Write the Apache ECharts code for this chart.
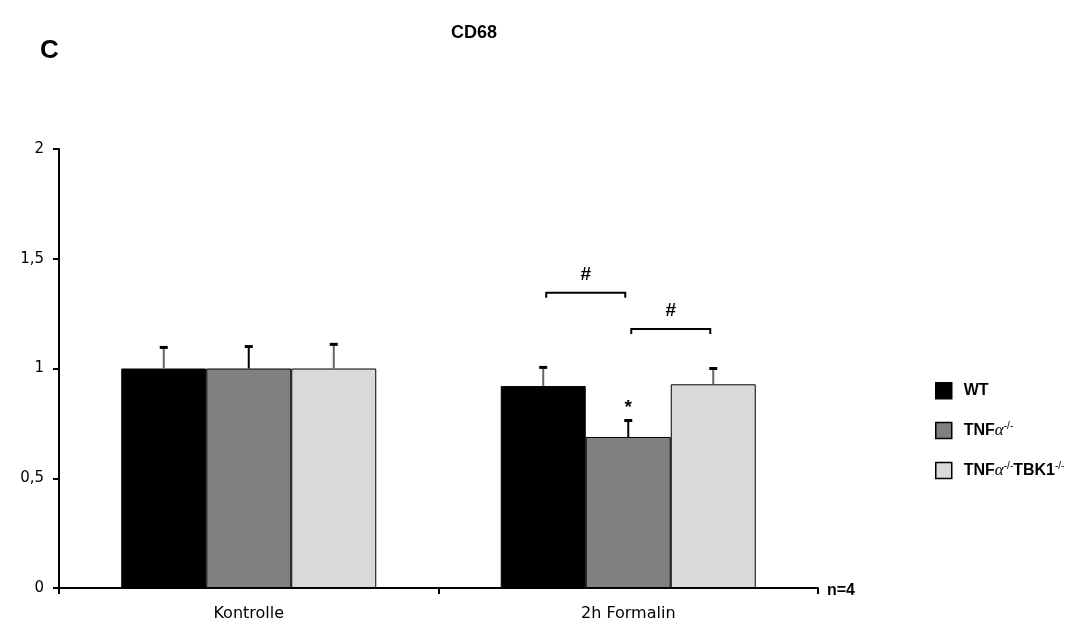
<!DOCTYPE html>
<html><head><meta charset="utf-8">
<script src="https://cdn.jsdelivr.net/npm/echarts@6/dist/echarts.min.js"></script>
<style>html,body{margin:0;padding:0;background:#fff}#c{width:1089px;height:626px}</style>
</head><body><div id="c"></div>
<script>
const categories = ['Kontrolle', '2h Formalin'];
const seriesNames = ['WT', 'TNFα-/-', 'TNFα-/-TBK1-/-'];
const wtValues = [1.0, 0.92];
const tnfValues = [1.0, 0.688];
const tbkValues = [1.0, 0.928];
const wtErr = [0.096, 0.085];
const tnfErr = [0.1, 0.075];
const tbkErr = [0.11, 0.072];
const yTicks = [0, 0.5, 1, 1.5, 2];
// significance brackets: [category, fromBar, toBar, yLevel, label]
const brackets = [[1, 0, 1, 1.345, '#'], [1, 1, 2, 1.18, '#']];
const stars = [[1, 1, 0.82, '*']];

const colors = ['#000000', '#808080', '#d9d9d9'];
const allValues = [wtValues, tnfValues, tbkValues];
const allErr = [wtErr, tnfErr, tbkErr];
const GAP = 0.328;

function barGeom(api, cat, idx) {
  const c = api.coord([cat, 0]);
  const band = api.size([1, 0])[0];
  const bw = band * (1 - GAP) / 3;
  return { x: c[0] + (idx - 1) * bw, bw: bw };
}

const barSeries = allValues.map((vals, i) => ({
  name: seriesNames[i],
  type: 'bar',
  data: vals,
  barGap: '0%',
  barCategoryGap: (GAP * 100) + '%',
  itemStyle: { color: colors[i], borderColor: '#000', borderWidth: 1 },
  z: 2
}));

const errSeries = allValues.map((vals, i) => ({
  type: 'custom',
  name: 'err' + i,
  data: vals.map((v, k) => [k, v, v + allErr[i][k]]),
  z: 3,
  silent: true,
  renderItem: function (params, api) {
    const cat = api.value(0);
    const g = barGeom(api, cat, i);
    const lo = api.coord([cat, api.value(1)]);
    const hi = api.coord([cat, api.value(2)]);
    const stemColor = i === 1 ? '#000' : '#666';
    return {
      type: 'group',
      children: [
        { type: 'line', shape: { x1: g.x, y1: lo[1], x2: g.x, y2: hi[1] }, style: { stroke: stemColor, lineWidth: 2 } },
        { type: 'line', shape: { x1: g.x - 4, y1: hi[1], x2: g.x + 4, y2: hi[1] }, style: { stroke: '#000', lineWidth: 3 } }
      ]
    };
  }
}));

const bracketSeries = {
  type: 'custom',
  name: 'brackets',
  data: brackets.map(b => [b[0], b[1], b[2], b[3]]),
  z: 4,
  silent: true,
  renderItem: function (params, api) {
    const cat = api.value(0);
    const a = barGeom(api, cat, api.value(1));
    const b = barGeom(api, cat, api.value(2));
    const y = api.coord([cat, api.value(3)])[1];
    const x1 = a.x + 3, x2 = b.x - 3;
    return {
      type: 'group',
      children: [
        { type: 'polyline', shape: { points: [[x1, y + 5], [x1, y], [x2, y], [x2, y + 5]] }, style: { stroke: '#000', lineWidth: 2, fill: null } },
        { type: 'text', style: { text: brackets[params.dataIndex][4], x: (x1 + x2) / 2, y: y - 18, align: 'center', verticalAlign: 'middle', font: 'bold 19px "Liberation Sans", Arial, sans-serif', fill: '#000' } }
      ]
    };
  }
};

const starSeries = {
  type: 'custom',
  name: 'stars',
  data: stars.map(s => [s[0], s[1], s[2]]),
  z: 4,
  silent: true,
  renderItem: function (params, api) {
    const cat = api.value(0);
    const g = barGeom(api, cat, api.value(1));
    const y = api.coord([cat, api.value(2)])[1];
    return { type: 'text', style: { text: stars[params.dataIndex][3], x: g.x, y: y, align: 'center', verticalAlign: 'middle', font: 'bold 19px "Liberation Sans", Arial, sans-serif', fill: '#000' } };
  }
};

const chart = echarts.init(document.getElementById('c'), null, { renderer: 'canvas' });
chart.setOption({
  backgroundColor: '#fff',
  animation: false,
  title: [
    { text: 'CD68', left: 446, top: 19, textStyle: { fontFamily: '"Liberation Sans", Arial, sans-serif', fontWeight: 'bold', fontSize: 18, color: '#000' } },
    { text: 'C', left: 35, top: 33, textStyle: { fontFamily: '"Liberation Sans", Arial, sans-serif', fontWeight: 'bold', fontSize: 26, color: '#000' } },
    { text: 'n=4', left: 822, top: 578, textStyle: { fontFamily: '"Liberation Sans", Arial, sans-serif', fontWeight: 'bold', fontSize: 16, color: '#000' } }
  ],
  grid: { left: 59, right: 271, top: 149, bottom: 38 },
  legend: {
    orient: 'vertical',
    left: 930,
    top: 377,
    icon: 'rect',
    itemWidth: 16,
    itemHeight: 16,
    itemGap: 22,
    data: seriesNames.map((n, i) => ({ name: n, itemStyle: { color: colors[i], borderColor: '#000', borderWidth: 1.5 } })),
    formatter: function (name) {
      if (name === 'WT') return '{b|WT}';
      if (name === 'TNFα-/-') return '{b|TNF}{g|α}{s|-/-}';
      return '{b|TNF}{g|α}{s|-/-}{b|TBK1}{s|-/-}';
    },
    textStyle: {
      padding: [0, 0, 0, 7],
      rich: {
        b: { fontFamily: '"Liberation Sans", Arial, sans-serif', fontWeight: 'bold', fontSize: 16, lineHeight: 16, color: '#000' },
        g: { fontFamily: '"Liberation Serif", serif', fontStyle: 'italic', fontSize: 17, lineHeight: 16, color: '#000' },
        s: { fontFamily: '"Liberation Sans", Arial, sans-serif', fontSize: 10, lineHeight: 16, color: '#000', padding: [0, 0, 8, 0] }
      }
    }
  },
  xAxis: {
    type: 'category',
    data: categories,
    axisLine: { lineStyle: { color: '#000', width: 2 } },
    axisTick: { show: true, alignWithLabel: false, length: 6, lineStyle: { color: '#000', width: 2 } },
    axisLabel: { color: '#000', fontFamily: '"DejaVu Sans", Verdana, sans-serif', fontSize: 16, margin: 18 }
  },
  yAxis: {
    type: 'value',
    min: 0, max: 2, interval: 0.5,
    splitLine: { show: false },
    axisLine: { show: true, lineStyle: { color: '#000', width: 2 } },
    axisTick: { show: true, length: 6, lineStyle: { color: '#000', width: 2 } },
    axisLabel: {
      color: '#000', fontFamily: '"DejaVu Sans", Verdana, sans-serif', fontSize: 15, margin: 15,
      formatter: v => yTicks.includes(v) ? String(v).replace('.', ',') : ''
    }
  },
  series: [...barSeries, ...errSeries, bracketSeries, starSeries]
});
</script></body></html>
